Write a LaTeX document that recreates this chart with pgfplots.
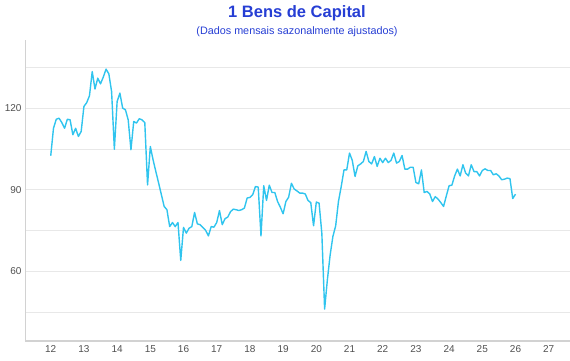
\documentclass[border=0pt]{standalone}
\usepackage{fontspec}
\setmainfont{Liberation Sans}
\usepackage{pgfplots}
\pgfplotsset{compat=1.18}
\usepackage{pgfplotstable}
\definecolor{lineblue}{RGB}{48,196,238}
\definecolor{titleblue}{RGB}{38,62,212}
\definecolor{gridgray}{RGB}{232,232,232}
\definecolor{axisgray}{RGB}{210,210,210}
\definecolor{ticktext}{RGB}{80,80,80}

\pgfplotstableread{
m v
0 102.5
1 112.6
2 115.9
3 116.3
4 114.7
5 112.6
6 115.9
7 115.7
8 110.2
9 112.6
10 109.6
11 111.4
12 120.6
13 122.0
14 124.5
15 133.4
16 127.0
17 131.0
18 128.9
19 131.4
20 134.3
21 132.6
22 126.1
23 104.9
24 122.4
25 125.5
26 120.0
27 119.4
28 115.7
29 104.7
30 115.1
31 114.5
32 116.1
33 115.7
34 114.7
35 91.8
36 105.9
37 101.0
38 96.7
39 92.5
40 88.2
41 83.9
42 82.7
43 76.5
44 78.0
45 76.5
46 78.0
47 64.1
48 76.2
49 74.1
50 75.9
51 76.5
52 81.7
53 77.5
54 77.2
55 76.2
56 75.1
57 73.1
58 76.5
59 76.3
60 78.0
61 82.4
62 77.2
63 79.4
64 80.0
65 82.0
66 82.9
67 82.7
68 82.4
69 82.7
70 83.3
71 87.0
72 87.2
73 88.2
74 91.2
75 91.0
76 73.1
77 91.5
78 86.1
79 91.7
80 89.0
81 89.0
82 85.7
83 83.6
84 81.2
85 85.7
86 87.3
87 92.4
88 90.3
89 89.6
90 88.8
91 88.8
92 88.5
93 86.1
94 85.3
95 76.8
96 85.5
97 85.1
98 74.0
99 46.2
100 57.0
101 66.1
102 72.9
103 76.8
104 85.7
105 91.2
106 97.3
107 97.3
108 103.5
109 100.8
110 94.9
111 98.8
112 99.5
113 100.4
114 104.1
115 100.4
116 99.5
117 102.2
118 98.6
119 101.6
120 100.0
121 101.6
122 100.0
123 100.8
124 103.5
125 99.8
126 100.4
127 102.6
128 97.6
129 97.6
130 98.3
131 98.3
132 92.7
133 92.2
134 97.3
135 89.0
136 89.4
137 88.5
138 85.7
139 87.5
140 86.6
141 85.3
142 83.9
143 87.8
144 91.5
145 91.7
146 95.1
147 97.6
148 95.1
149 99.2
150 96.1
151 95.1
152 99.2
153 96.7
154 96.7
155 95.1
156 97.1
157 97.7
158 97.1
159 97.1
160 95.5
161 95.9
162 95.1
163 93.7
164 93.9
165 94.3
166 94.1
167 86.8
168 88.4
}\datatable

\begin{document}
\begin{tikzpicture}
\useasboundingbox (-25pt,-19pt) rectangle (545pt,341pt);
\begin{axis}[
  at={(0pt,0pt)}, anchor=south west,
  scale only axis, width=545pt, height=301pt,
  xmin=-9.3, xmax=187.7, ymin=34.5, ymax=145,
  axis x line*=bottom, axis y line*=left,
  x axis line style={draw=axisgray, line width=1.6pt, -},
  y axis line style={draw=axisgray, line width=0.9pt, -},
  xtick={0,12,24,36,48,60,72,84,96,108,120,132,144,156,168,180},
  xticklabels={12,13,14,15,16,17,18,19,20,21,22,23,24,25,26,27},
  ytick={60,90,120}, minor ytick={45,75,105,135},
  ymajorgrids, yminorgrids,
  major grid style={draw=gridgray, line width=0.8pt},
  minor grid style={draw=gridgray, line width=0.8pt},
  major tick length=0pt, minor tick length=0pt,
  tick style={draw=none},
  tick label style={font=\fontsize{10}{12}\selectfont, text=ticktext},
  xticklabel style={yshift=-1pt},
  yticklabel style={xshift=0pt},
  /pgf/number format/assume math mode=true,
]
\addplot[lineblue, line width=1.4pt, line join=round, no markers] table[x=m,y=v]{\datatable};
\end{axis}
\node[font=\bfseries\fontsize{16.5}{19}\selectfont, text=titleblue] at (272pt,328pt) {1 Bens de Capital};
\node[font=\fontsize{10.8}{13}\selectfont, text=titleblue] at (272pt,309pt) {(Dados mensais sazonalmente ajustados)};
\end{tikzpicture}
\end{document}
